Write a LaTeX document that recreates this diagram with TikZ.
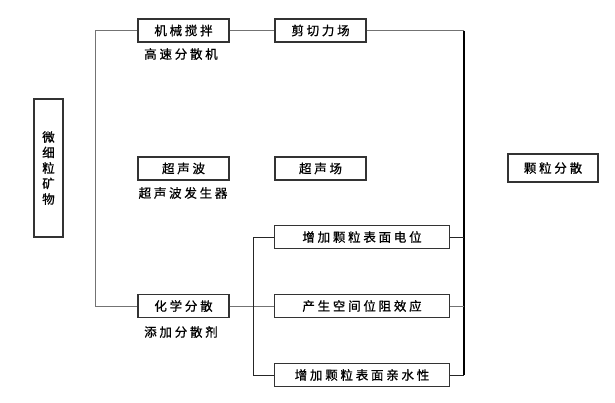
\documentclass[tikz,border=0pt]{standalone}
\usepackage{fontspec}
\newfontfamily\cjk[LetterSpace=22,FakeBold=0.8]{Noto Sans CJK SC}
\begin{document}
\begin{tikzpicture}[x=1pt,y=-1pt,
  box/.style={draw=black!80,line width=1.1pt,fill=white,inner sep=0pt,minimum height=23pt,font=\cjk\fontsize{12.5}{14}\selectfont},
  sbox/.style={box,minimum width=91pt},
  wbox/.style={box,minimum width=175pt},
  lbl/.style={inner sep=0pt,font=\cjk\fontsize{12.5}{14}\selectfont},
  link/.style={draw=black!55,line width=0.9pt},
  dlink/.style={draw=black!85,line width=1pt},
  trunk/.style={draw=black,line width=1.3pt}]
\useasboundingbox (0,0) rectangle (615,402);
\node[box,minimum width=29pt,minimum height=138pt,align=center,font=\cjk\fontsize{12.5}{15.5}\selectfont] (M) at (48.5,168) {微\\细\\粒\\矿\\物};
\node[sbox] (A) at (183.5,30.5) {机械搅拌};
\node[sbox] (B) at (183.5,168.5) {超声波};
\node[sbox] (C) at (183.5,306) {化学分散};
\node[lbl] (a1) at (181,54) {高速分散机};
\node[lbl] (b1) at (183,193) {超声波发生器};
\node[lbl] (c1) at (181,332) {添加分散剂};
\node[sbox] (D) at (320.5,30.5) {剪切力场};
\node[sbox] (E) at (320.5,168.5) {超声场};
\node[wbox] (F) at (362,237) {增加颗粒表面电位};
\node[wbox] (G) at (362,306) {产生空间位阻效应};
\node[wbox] (H) at (362,375) {增加颗粒表面亲水性};
\node[box,minimum width=90pt,minimum height=28pt] (P) at (553,168) {颗粒分散};
\coordinate (lt) at (95,30.5);
\coordinate (lb) at (95,306);
\coordinate (bt) at (253,237);
\coordinate (bb) at (253,375);
\coordinate (rt) at (464,30.5);
\coordinate (rb) at (464,375);
\draw[link] (A.west) -- (lt) -- (lb) -- (C.west);
\draw[link] (A.east) -- (D.west);
\draw[link] (D.east) -- (rt);
\draw[trunk] (rt) -- (rb);
\draw[link] (C.east) -- (G.west);
\draw[dlink] (F.west) -- (bt) -- (bb) -- (H.west);
\draw[dlink] (F.east) -- (F.east -| rt);
\draw[link] (G.east) -- (G.east -| rt);
\draw[dlink] (H.east) -- (rb);
\end{tikzpicture}
\end{document}
